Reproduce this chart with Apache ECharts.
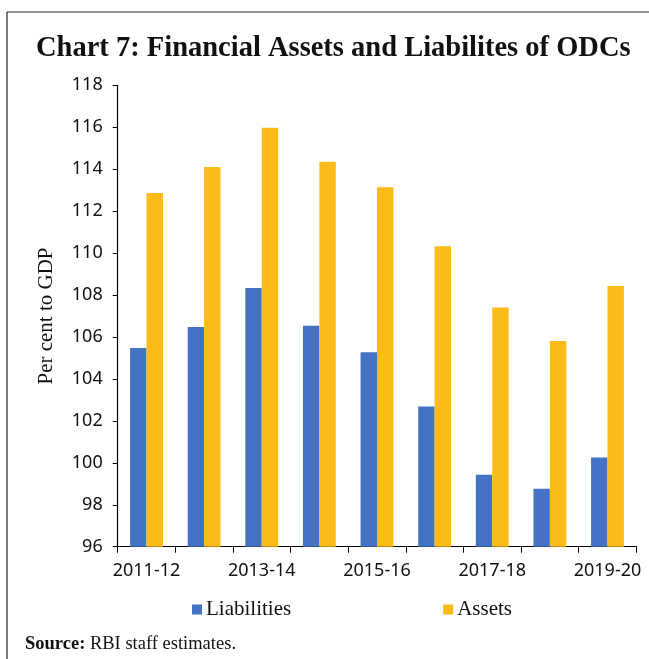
<!DOCTYPE html>
<html>
<head>
<meta charset="utf-8">
<script src="https://cdn.jsdelivr.net/npm/echarts@6/dist/echarts.min.js"></script>
<style>
  html, body { margin: 0; padding: 0; background: #fff; }
  #chart { width: 649px; height: 659px; }
</style>
</head>
<body>
<div id="chart"></div>
<script>
// Financial assets and liabilities of ODCs, per cent to GDP
const years = ['2011-12', '2012-13', '2013-14', '2014-15', '2015-16', '2016-17', '2017-18', '2018-19', '2019-20'];
const liabilities = [105.48, 106.48, 108.33, 106.54, 105.27, 102.68, 99.43, 98.76, 100.25];
const assets = [112.86, 114.1, 115.97, 114.36, 113.14, 110.33, 107.4, 105.81, 108.43];

const chart = echarts.init(document.getElementById('chart'), null, { renderer: 'canvas' });

const sansFont = '"Noto Sans", sans-serif';
const serifFont = '"Liberation Serif", serif';

chart.setOption({
  animation: false,
  backgroundColor: '#ffffff',
  title: {
    text: 'Chart 7: Financial Assets and Liabilites of ODCs',
    left: 31,
    top: 29,
    textStyle: { fontFamily: serifFont, fontWeight: 'bold', fontSize: 28.5, color: '#111' }
  },
  legend: {
    data: ['Liabilities', 'Assets'],
    left: 187,
    top: 594,
    itemWidth: 10,
    itemHeight: 10,
    itemGap: 152,
    icon: 'rect',
    textStyle: { fontFamily: serifFont, fontSize: 21, color: '#111', padding: [0, 0, 0, -1] }
  },
  grid: { left: 117.7, right: 12.7, top: 85.3, bottom: 112.3, containLabel: false },
  xAxis: {
    type: 'category',
    data: years,
    axisLine: { lineStyle: { color: '#000', width: 1.2 } },
    axisTick: { show: true, length: 6, alignWithLabel: false, interval: 0, lineStyle: { color: '#000' } },
    axisLabel: { interval: 1, margin: 15, fontFamily: sansFont, fontSize: 18, color: '#111' }
  },
  yAxis: {
    type: 'value',
    min: 96,
    max: 118,
    interval: 2,
    name: 'Per cent to GDP',
    nameLocation: 'middle',
    nameGap: 61,
    nameRotate: 90,
    nameTextStyle: { fontFamily: serifFont, fontSize: 21, color: '#111' },
    axisLine: { show: true, lineStyle: { color: '#000', width: 1.2 } },
    axisTick: { show: true, length: 5, lineStyle: { color: '#000' } },
    splitLine: { show: false },
    axisLabel: { margin: 15, fontFamily: sansFont, fontSize: 18, color: '#111' }
  },
  series: [
    {
      name: 'Liabilities',
      type: 'bar',
      data: liabilities,
      itemStyle: { color: '#4472C4' },
      barGap: '0%',
      barCategoryGap: '43%'
    },
    {
      name: 'Assets',
      type: 'bar',
      data: assets,
      itemStyle: { color: '#FDBB19' },
      barGap: '0%',
      barCategoryGap: '43%'
    }
  ],
  graphic: [
    { type: 'line', shape: { x1: 7, y1: 12, x2: 649, y2: 12 }, style: { stroke: '#222', lineWidth: 1.2 } },
    { type: 'line', shape: { x1: 7, y1: 12, x2: 7, y2: 659 }, style: { stroke: '#222', lineWidth: 1.2 } },
    {
      type: 'text',
      left: 25,
      top: 635,
      style: {
        text: '{b|Source:} RBI staff estimates.',
        fontFamily: serifFont,
        fontSize: 18.5,
        fill: '#111',
        rich: {
          b: { fontFamily: serifFont, fontWeight: 'bold', fontSize: 18.5, fill: '#111' }
        }
      }
    }
  ]
});
</script>
</body>
</html>
